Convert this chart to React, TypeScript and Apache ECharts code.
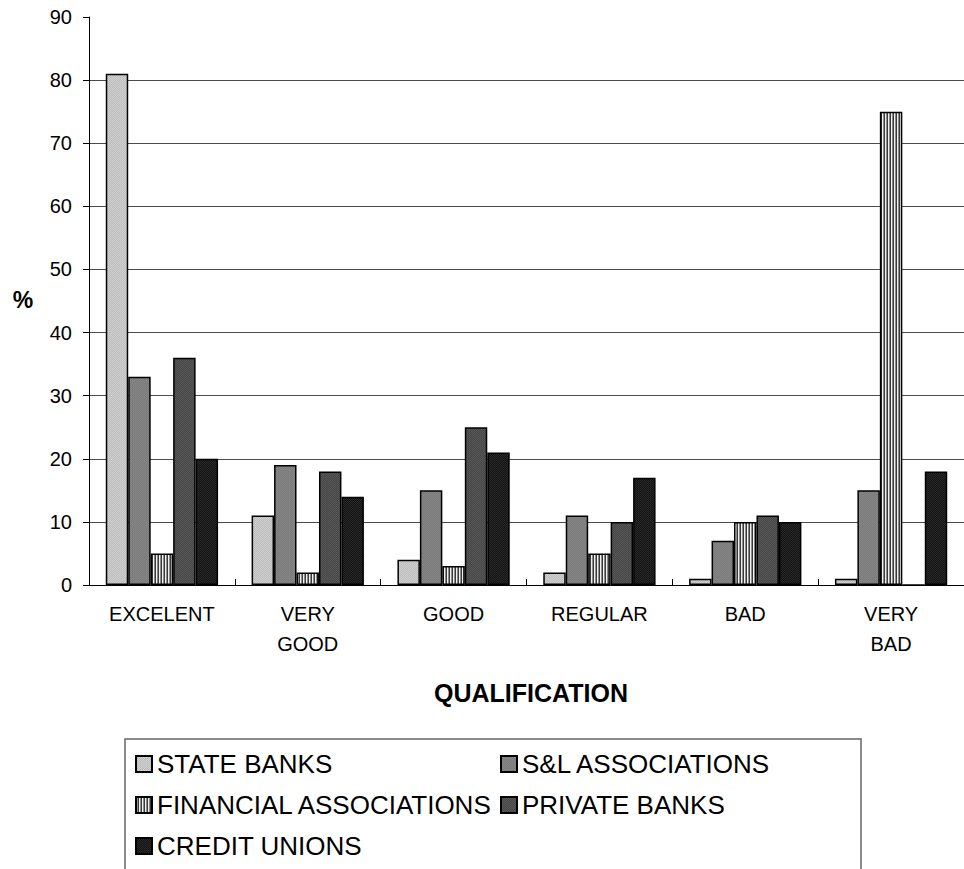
import React, { useEffect, useRef } from "react";
import * as echarts from "echarts";

// Qualification categories along the x axis
const categories: string[] = ["EXCELENT", "VERY\nGOOD", "GOOD", "REGULAR", "BAD", "VERY\nBAD"];

// Percentage of respondents per institution type
const stateBanks: number[] = [81, 11, 4, 2, 1, 1];
const slAssociations: number[] = [33, 19, 15, 11, 7, 15];
const financialAssociations: number[] = [5, 2, 3, 5, 10, 75];
const privateBanks: number[] = [36, 18, 25, 10, 11, 0];
const creditUnions: number[] = [20, 14, 21, 17, 10, 18];

const seriesNames: string[] = [
  "STATE BANKS",
  "S&L ASSOCIATIONS",
  "FINANCIAL ASSOCIATIONS",
  "PRIVATE BANKS",
  "CREDIT UNIONS",
];

const FONT = "'Liberation Sans', Arial, Helvetica, sans-serif";

// Small bitmap tile used as a repeating fill for bars and legend swatches
function makeTile(rows: string[][]) {
  const h = rows.length;
  const w = rows[0].length;
  const c = document.createElement("canvas");
  c.width = w;
  c.height = h;
  const ctx = c.getContext("2d")!;
  for (let y = 0; y < h; y++) {
    for (let x = 0; x < w; x++) {
      ctx.fillStyle = rows[y][x];
      ctx.fillRect(x, y, 1, 1);
    }
  }
  return { image: c.toDataURL(), repeat: "repeat", imageWidth: w, imageHeight: h } as any;
}

export default function App() {
  const ref = useRef<HTMLDivElement>(null);

  useEffect(() => {
    document.body.style.margin = "0";
    if (!ref.current) return;
    const chart = echarts.init(ref.current, null, { renderer: "svg" });

    const fills = [
      makeTile([
        ["#d0d0d0", "#bcbcbc"],
        ["#bcbcbc", "#d0d0d0"],
      ]),
      makeTile([
        ["#858585", "#7b7b7b"],
        ["#7b7b7b", "#858585"],
      ]),
      makeTile([["#f0f0f0", "#8c8c8c", "#3a3a3a"]]),
      makeTile([
        ["#575757", "#464646"],
        ["#464646", "#575757"],
      ]),
      makeTile([
        ["#2a2a2a", "#121212"],
        ["#121212", "#2a2a2a"],
      ]),
    ];
    const values = [stateBanks, slAssociations, financialAssociations, privateBanks, creditUnions];

    const legendCommon = {
      orient: "vertical",
      top: 751,
      padding: 0,
      itemGap: 15,
      itemWidth: 16,
      itemHeight: 16,
      icon: "rect",
      selectedMode: false,
      textStyle: { fontFamily: FONT, fontSize: 26, lineHeight: 26, color: "#000" },
    };

    chart.setOption({
      animation: false,
      backgroundColor: "#ffffff",
      textStyle: { fontFamily: FONT },
      grid: { left: 89, top: 17, width: 885, height: 568, containLabel: false },
      legend: [
        { ...legendCommon, left: 135, data: [seriesNames[0], seriesNames[2], seriesNames[4]] },
        { ...legendCommon, left: 500, data: [seriesNames[1], seriesNames[3]] },
      ],
      xAxis: {
        type: "category",
        data: categories,
        axisLine: { show: true, lineStyle: { color: "#000", width: 1 } },
        axisTick: { show: true, inside: true, length: 6, lineStyle: { color: "#000" } },
        axisLabel: {
          interval: 0,
          margin: 14,
          fontSize: 20,
          lineHeight: 30,
          color: "#000",
          fontFamily: FONT,
        },
      },
      yAxis: {
        type: "value",
        min: 0,
        max: 90,
        interval: 10,
        axisLine: { show: true, lineStyle: { color: "#000", width: 1 } },
        axisTick: { show: true, inside: false, length: 6, lineStyle: { color: "#000" } },
        axisLabel: { margin: 17, fontSize: 20, color: "#000", fontFamily: FONT },
        splitLine: {
          show: true,
          showMaxLine: false,
          showMinLine: false,
          lineStyle: { color: "#4a4a4a", width: 1 },
        },
      },
      series: seriesNames.map((name, i) => ({
        name,
        type: "bar",
        data: values[i],
        barGap: "0%",
        barCategoryGap: "23%",
        itemStyle: { color: fills[i], borderColor: "#000", borderWidth: 1.5 },
        emphasis: { disabled: true },
      })),
      graphic: [
        {
          type: "rect",
          z: -1,
          shape: { x: 125, y: 739, width: 736, height: 150 },
          style: { fill: "#fff", stroke: "#666", lineWidth: 1.5 },
        },
        {
          type: "text",
          x: 23,
          y: 300,
          style: {
            text: "%",
            font: `bold 23px ${FONT}`,
            fill: "#000",
            textAlign: "center",
            textVerticalAlign: "middle",
          },
        },
        {
          type: "text",
          x: 531,
          y: 693,
          style: {
            text: "QUALIFICATION",
            font: `bold 25px ${FONT}`,
            fill: "#000",
            textAlign: "center",
            textVerticalAlign: "middle",
          },
        },
      ],
    });

    return () => chart.dispose();
  }, []);

  return <div ref={ref} style={{ width: 964, height: 869, overflow: "hidden" }} />;
}
